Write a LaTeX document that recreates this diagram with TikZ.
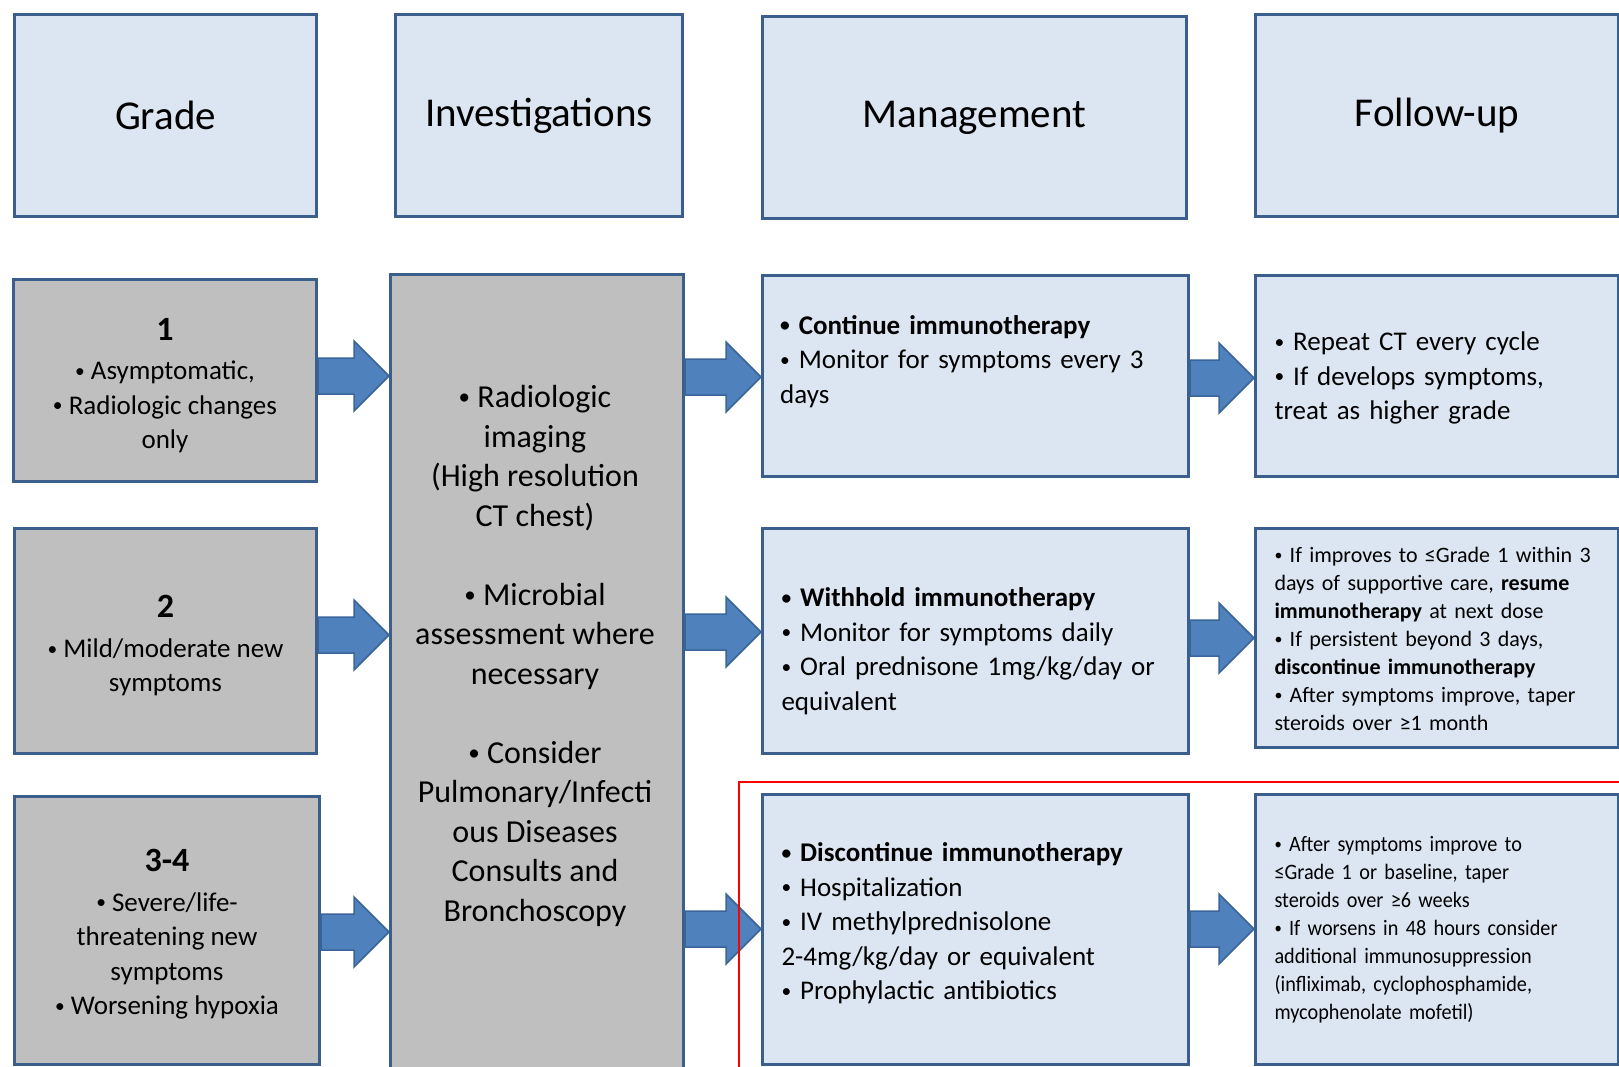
\documentclass[tikz,border=0pt]{standalone}
\usepackage{fontspec}
\usepackage{graphicx}
\setmainfont{Carlito}
\newfontfamily\condf[FakeStretch=0.92]{Carlito}
\usetikzlibrary{calc}
\definecolor{hdrfill}{HTML}{DCE6F2}
\definecolor{bordc}{HTML}{3B5E8C}
\definecolor{grayfill}{HTML}{BFBFBF}
\definecolor{arrfill}{HTML}{4F81BD}
\definecolor{arrline}{HTML}{3A649A}
\newcommand\bl{\raisebox{0.09em}{\scalebox{0.72}{•}}}
\newcommand\barr[3]{%
  \draw[barrow] ($(#1.east|-0,#3)+(0,-18)$) -- ($(#2.west|-0,#3)+(-35,-18)$) -- ($(#2.west|-0,#3)+(-35,-35)$) -- (#2.west|-0,#3) -- ($(#2.west|-0,#3)+(-35,35)$) -- ($(#2.west|-0,#3)+(-35,18)$) -- ($(#1.east|-0,#3)+(0,18)$) -- cycle;}
\begin{document}
\begin{tikzpicture}[x=1pt,y=-1pt,
  tbox/.style={draw=bordc, line width=3pt, inner sep=0pt, anchor=north west, text=black},
  hdrbox/.style={tbox, fill=hdrfill, font=\fontsize{41}{48}\selectfont},
  graybox/.style={tbox, fill=grayfill},
  bluebox/.style={tbox, fill=hdrfill},
  gtext/.style={inner sep=0pt, text=black, align=center, font=\fontsize{27}{34.5}\selectfont},
  mtext/.style={inner sep=0pt, text=black, align=left, text width=388, font=\fontsize{27}{34.5}\selectfont},
  ftext/.style={inner sep=0pt, text=black, align=left, text width=325, font=\fontsize{27}{34.5}\selectfont},
  fstext/.style={ftext, font=\fontsize{22}{28}\selectfont},
  barrow/.style={fill=arrfill, draw=arrline, line width=1.5pt, line join=miter}]
\useasboundingbox (0,0) rectangle (1619,1067);
\clip (0,0) rectangle (1619,1067);
\fill[white] (0,0) rectangle (1619,1067);
% headers
\node[hdrbox, minimum width=302, minimum height=202] (hg) at (13,13) {Grade};
\node[hdrbox, minimum width=287, minimum height=202] (hi) at (394,13) {Investigations};
\node[hdrbox, minimum width=424, minimum height=202] (hm) at (761,15) {Management};
\node[hdrbox, minimum width=363, minimum height=202] (hf) at (1254,13) {Follow-up};
% grade boxes
\node[graybox, minimum width=303, minimum height=202] (g1) at (12,278) {};
\node[gtext] (g1t) at ($(g1.center)+(0,5)$)
 {{\bfseries\fontsize{34}{40}\selectfont 1}\\[5pt] \bl\ Asymptomatic,\\ \bl\ Radiologic changes\\ only};
\node[graybox, minimum width=302, minimum height=225] (g2) at (13,527) {};
\node[gtext] (g2t) at ($(g2.center)+(0,5)$)
 {{\bfseries\fontsize{34}{40}\selectfont 2}\\[5pt] \bl\ Mild/moderate new\\ symptoms};
\node[graybox, minimum width=305, minimum height=268] (g3) at (13,795) {};
\node[gtext] (g3t) at ($(g3.center)+(0,4)$)
 {{\bfseries\fontsize{34}{40}\selectfont 3-4}\\[5pt] \bl\ Severe/life-\\ threatening new\\ symptoms\\ \bl\ Worsening hypoxia};
% investigations
\node[graybox, minimum width=293, minimum height=830] (inv) at (389,273) {};
\node[gtext, font=\fontsize{32}{39.5}\selectfont] (invt) at (535,656)
 {\bl\ Radiologic\\ imaging\\ (High resolution\\ CT chest)\\[39.5pt]
  \bl\ Microbial\\ assessment where\\ necessary\\[39.5pt]
  \bl\ Consider\\ Pulmonary/Infecti\\ ous Diseases\\ Consults and\\ Bronchoscopy};
% management
\node[bluebox, minimum width=426, minimum height=201] (m1) at (761,274) {};
\node[mtext, anchor=north west] (m1t) at (780,315)
 {\textbf{\bl\ Continue immunotherapy}\\ \bl\ Monitor for symptoms every 3\\ days};
\node[bluebox, minimum width=426, minimum height=225] (m2) at (761,527) {};
\node[mtext] (m2t) at ($(m2.center)+(0,10)$)
 {\textbf{\bl\ Withhold immunotherapy}\\ \bl\ Monitor for symptoms daily\\ \bl\ Oral prednisone 1mg/kg/day or\\ equivalent};
\node[bluebox, minimum width=426, minimum height=270] (m3) at (761,793) {};
\node[mtext] (m3t) at ($(m3.center)+(0,-6)$)
 {\textbf{\bl\ Discontinue immunotherapy}\\ \bl\ Hospitalization\\ \bl\ IV methylprednisolone\\ 2-4mg/kg/day or equivalent\\ \bl\ Prophylactic antibiotics};
% follow-up
\node[bluebox, minimum width=363, minimum height=201] (f1) at (1254,274) {};
\node[ftext] (f1t) at ($(f1.center)+(0,2)$)
 {\bl\ Repeat CT every cycle\\ \bl\ If develops symptoms,\\ treat as higher grade};
\node[bluebox, minimum width=363, minimum height=219] (f2) at (1254,527) {};
\node[fstext] (f2t) at ($(f2.center)+(0,1)$)
 {\bl\ If improves to ≤Grade 1 within 3\\ days of supportive care, \textbf{resume}\\ \textbf{immunotherapy} at next dose\\ \bl\ If persistent beyond 3 days,\\ \textbf{discontinue immunotherapy}\\ \bl\ After symptoms improve, taper\\ steroids over ≥1 month};
\node[bluebox, minimum width=363, minimum height=270] (f3) at (1254,793) {};
\node[fstext, font=\condf\fontsize{22}{28}\selectfont] (f3t) at ($(f3.center)+(0,0)$)
 {\bl\ After symptoms improve to\\ ≤Grade 1 or baseline, taper\\ steroids over ≥6 weeks\\ \bl\ If worsens in 48 hours consider\\ additional immunosuppression\\ (infliximab, cyclophosphamide,\\ mycophenolate mofetil)};
% arrows
\barr{g1}{inv}{376}
\barr{g2}{inv}{635}
\barr{g3}{inv}{932}
\barr{inv}{m1}{377}
\barr{inv}{m2}{632}
\barr{inv}{m3}{929}
\barr{m1}{f1}{378}
\barr{m2}{f2}{638}
\barr{m3}{f3}{929}
% red frame
\draw[red, line width=1.5pt] (739,782) rectangle (1640,1090);
\end{tikzpicture}
\end{document}
